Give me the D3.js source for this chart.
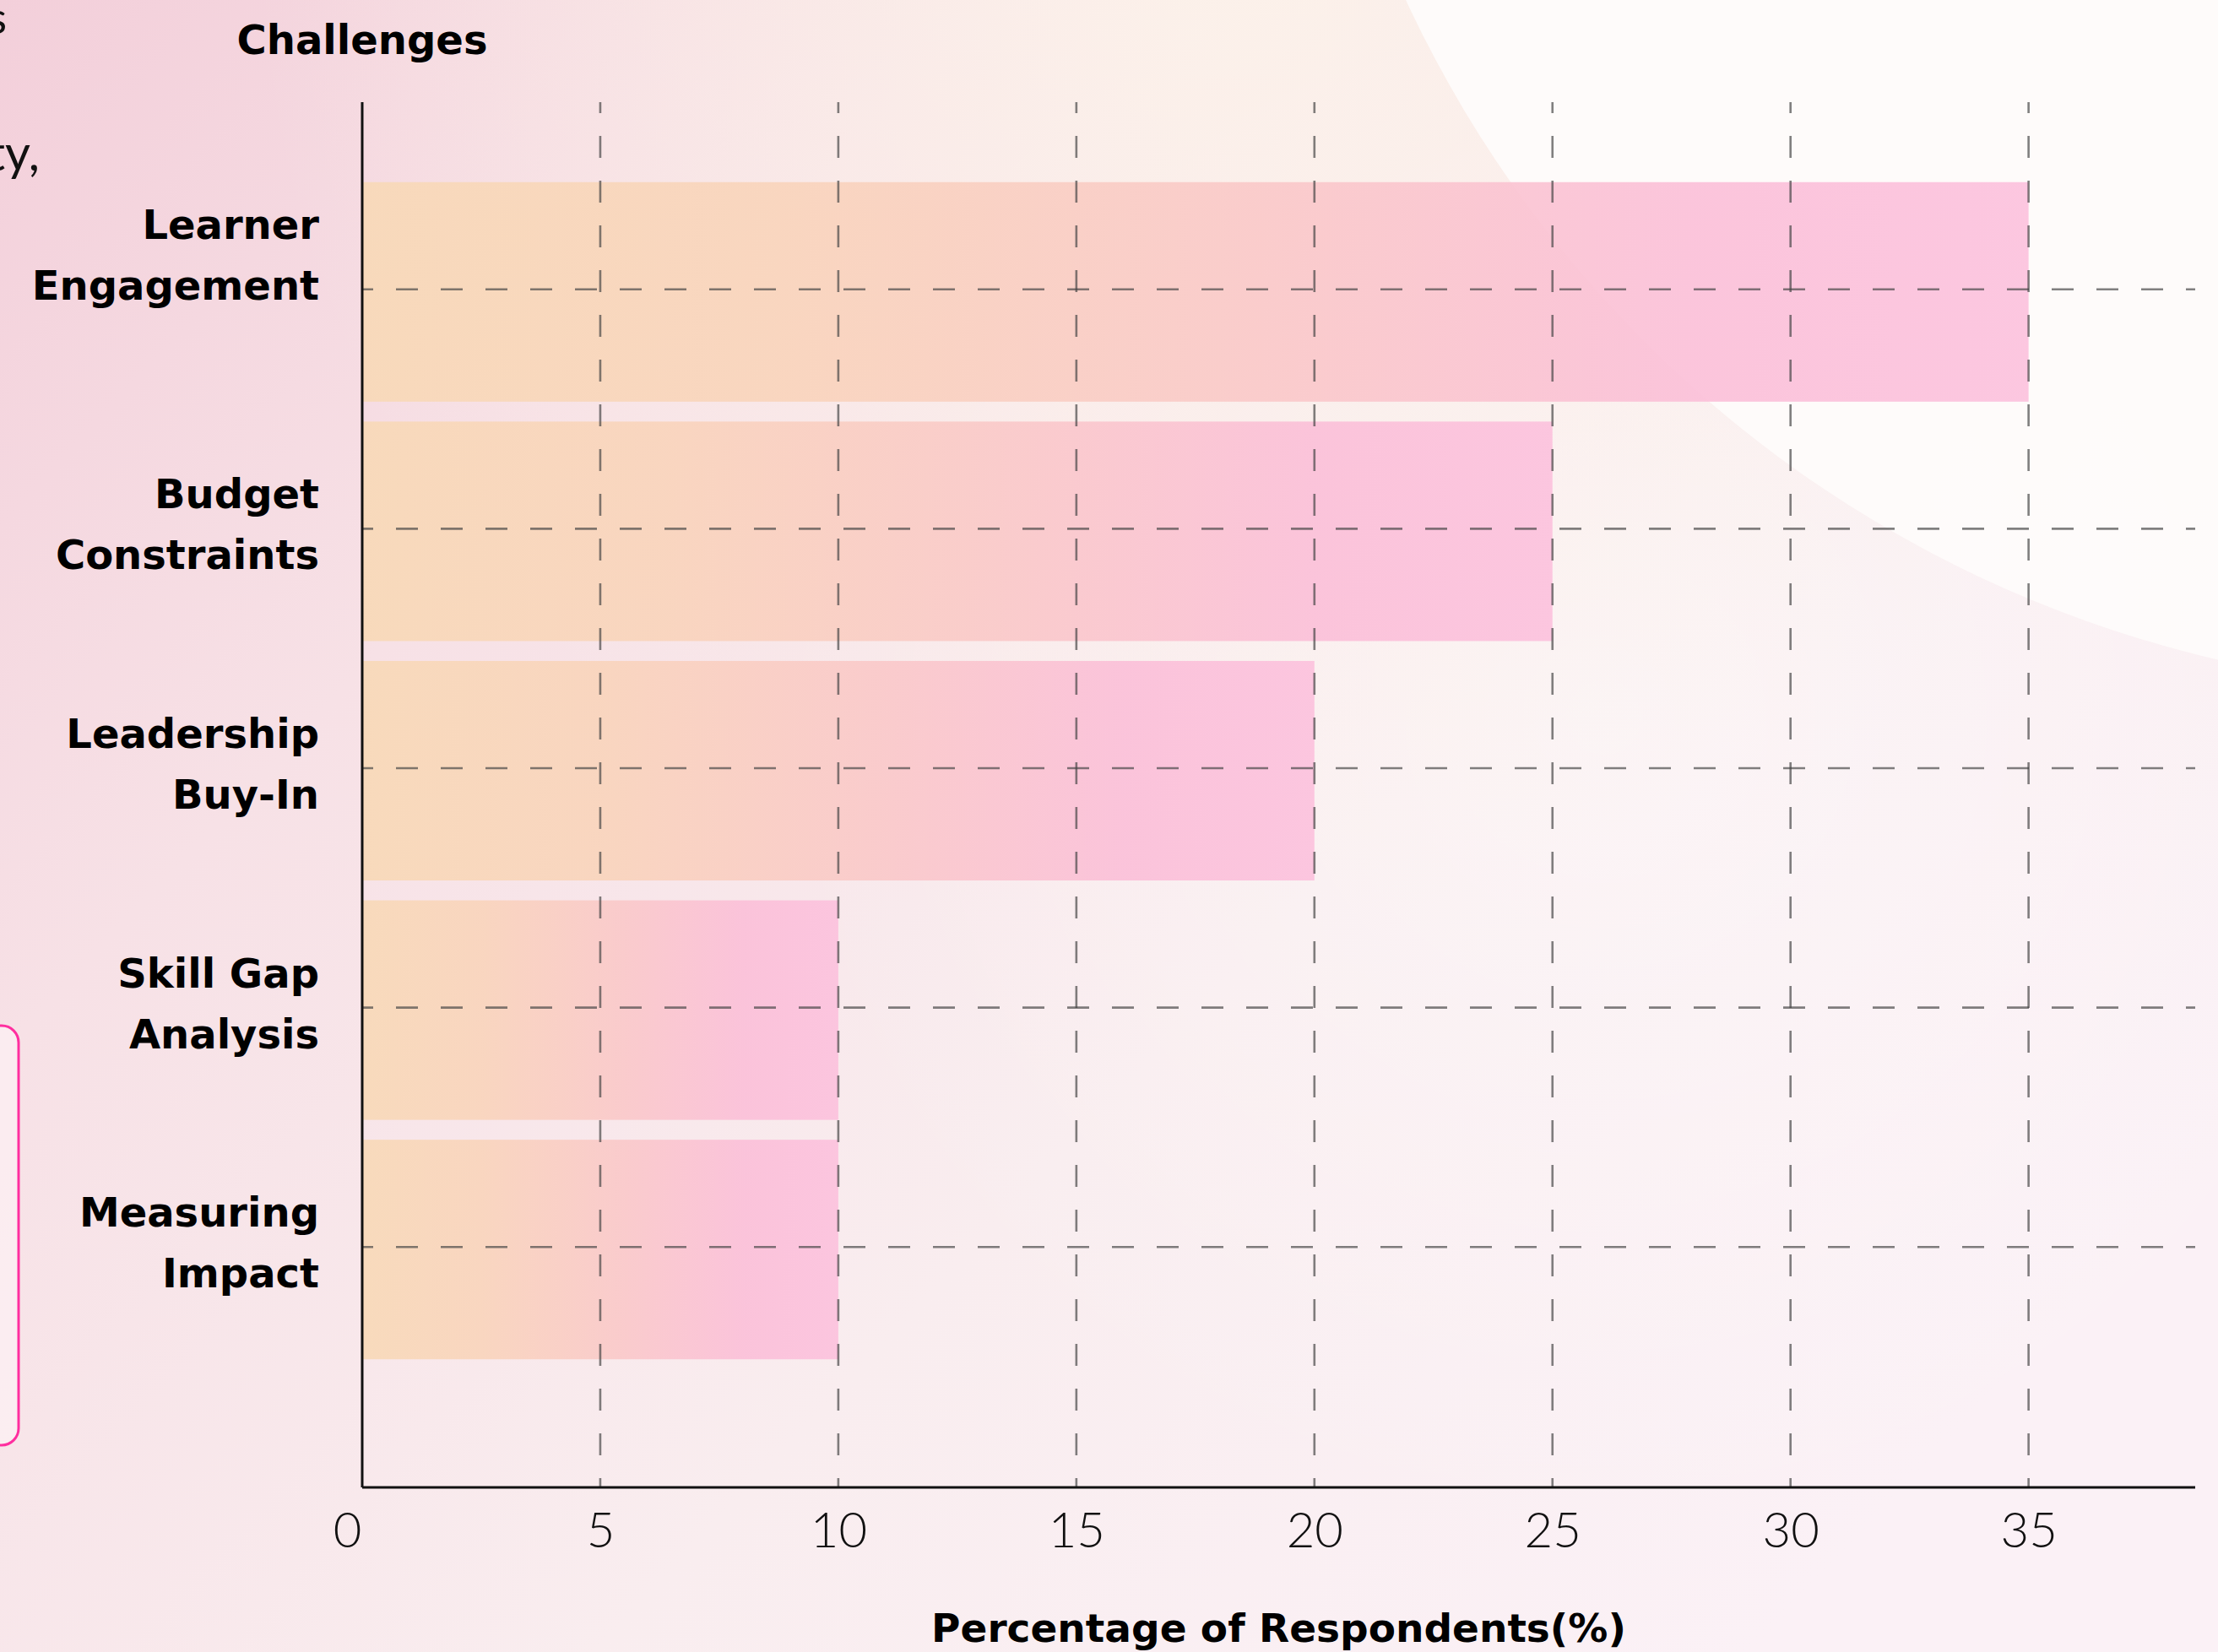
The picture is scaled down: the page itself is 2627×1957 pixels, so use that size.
<!DOCTYPE html>
<html>
<head>
<meta charset="utf-8">
<script src="https://cdn.jsdelivr.net/npm/d3@7"></script>
<style>
  html, body { margin: 0; padding: 0; overflow: hidden; background: #f8e6ea; }
  svg { display: block; }
</style>
</head>
<body>
<svg id="chart"></svg>
<script>
// ---- data ----
const categories = ["Learner Engagement", "Budget Constraints", "Leadership Buy-In", "Skill Gap Analysis", "Measuring Impact"];
const labelLines = [["Learner", "Engagement"], ["Budget", "Constraints"], ["Leadership", "Buy-In"], ["Skill Gap", "Analysis"], ["Measuring", "Impact"]];
const values = [35, 25, 20, 10, 10];
const xTicks = [0, 5, 10, 15, 20, 25, 30, 35];
const xTitle = "Percentage of Respondents(%)";
const yTitle = "Challenges";

// ---- layout ----
const W = 2627, H = 1957;
const plot = { left: 429, right: 2600, top: 121, bottom: 1762 };
const BOLD = "'DejaVu Sans', Lato, sans-serif";
const TICK = "Lato, 'Noto Sans', sans-serif";
const BODY = "Lato, 'Noto Sans', sans-serif";

const svg = d3.select("#chart").attr("width", W).attr("height", H);
const defs = svg.append("defs");

// page background: soft pink wash, lighter towards the right, peach glow near the top
const bg = defs.append("linearGradient").attr("id", "bgGrad")
  .attr("x1", "0").attr("y1", "0").attr("x2", "1").attr("y2", "0.7");
bg.append("stop").attr("offset", "0%").attr("stop-color", "#f3cfda");
bg.append("stop").attr("offset", "30%").attr("stop-color", "#f7e1e6");
bg.append("stop").attr("offset", "65%").attr("stop-color", "#f9edef");
bg.append("stop").attr("offset", "100%").attr("stop-color", "#fbf1f6");

const glow = defs.append("radialGradient").attr("id", "peachGlow")
  .attr("cx", 1450).attr("cy", -50).attr("r", 1150).attr("gradientUnits", "userSpaceOnUse");
glow.append("stop").attr("offset", "0%").attr("stop-color", "#fcf2ea").attr("stop-opacity", 0.95);
glow.append("stop").attr("offset", "100%").attr("stop-color", "#fcf2ea").attr("stop-opacity", 0);

const haze = defs.append("radialGradient").attr("id", "haze")
  .attr("cx", 1900).attr("cy", 850).attr("r", 1000).attr("gradientUnits", "userSpaceOnUse");
haze.append("stop").attr("offset", "0%").attr("stop-color", "#ffffff").attr("stop-opacity", 0.4);
haze.append("stop").attr("offset", "100%").attr("stop-color", "#ffffff").attr("stop-opacity", 0);

// bar fill: peach on the left blending into pink at the bar's end
const barGrad = defs.append("linearGradient").attr("id", "barGrad")
  .attr("x1", "0").attr("y1", "0").attr("x2", "1").attr("y2", "0");
barGrad.append("stop").attr("offset", "0%").attr("stop-color", "#f8d9b7");
barGrad.append("stop").attr("offset", "25%").attr("stop-color", "#f9d4bb");
barGrad.append("stop").attr("offset", "55%").attr("stop-color", "#fac8c9");
barGrad.append("stop").attr("offset", "80%").attr("stop-color", "#fbbfd8");
barGrad.append("stop").attr("offset", "100%").attr("stop-color", "#fcc1dd");

svg.append("rect").attr("width", W).attr("height", H).attr("fill", "url(#bgGrad)");
svg.append("rect").attr("width", W).attr("height", H).attr("fill", "url(#haze)");
svg.append("rect").attr("width", W).attr("height", H).attr("fill", "url(#peachGlow)");
// large pale disc in the upper right corner
svg.append("circle").attr("cx", 2946).attr("cy", -594).attr("r", 1412)
  .attr("fill", "#fefcfb").attr("opacity", 0.92);

// neighbouring page content cut off at the left edge
svg.append("text").attr("x", 8).attr("y", 40).attr("text-anchor", "end")
  .attr("font-family", BODY).attr("font-size", 52).attr("fill", "#111").text("s");
svg.append("text").attr("x", 47).attr("y", 202).attr("text-anchor", "end")
  .attr("font-family", BODY).attr("font-size", 58).attr("fill", "#111").text("ity,");
svg.append("rect").attr("x", -40).attr("y", 1215).attr("width", 62).attr("height", 497)
  .attr("rx", 20).attr("fill", "#fdf4f7").attr("fill-opacity", 0.6)
  .attr("stroke", "#ff2e9f").attr("stroke-width", 3);

// ---- scales ----
const x = d3.scaleLinear().domain([0, 38.5]).range([plot.left, plot.right]);
const y = d3.scaleBand().domain(categories).range([204, 1622])
  .paddingInner(0.083).paddingOuter(0.0415);

// ---- bars ----
svg.append("g").selectAll("rect")
  .data(categories)
  .join("rect")
  .attr("x", x(0))
  .attr("y", d => y(d))
  .attr("width", (d, i) => x(values[i]) - x(0))
  .attr("height", y.bandwidth())
  .attr("fill", "url(#barGrad)")
  .attr("fill-opacity", 0.9);

// ---- dashed grid (drawn over the bars) ----
const grid = svg.append("g")
  .attr("stroke", "#444").attr("stroke-opacity", 0.68)
  .attr("stroke-width", 2.6).attr("stroke-dasharray", "26,27").attr("stroke-dashoffset", 13);

grid.selectAll("line.v")
  .data(xTicks.filter(t => t > 0))
  .join("line").attr("class", "v")
  .attr("x1", d => x(d)).attr("x2", d => x(d))
  .attr("y1", plot.top).attr("y2", plot.bottom);

grid.selectAll("line.h")
  .data(categories)
  .join("line").attr("class", "h")
  .attr("x1", plot.left).attr("x2", plot.right)
  .attr("y1", d => y(d) + y.bandwidth() / 2 - 3)
  .attr("y2", d => y(d) + y.bandwidth() / 2 - 3);

// ---- x axis ----
const xAxis = svg.append("g")
  .attr("transform", `translate(0,${plot.bottom})`)
  .call(d3.axisBottom(x).tickValues(xTicks).tickSize(0).tickPadding(0).tickSizeOuter(0));
xAxis.select(".domain").remove();
xAxis.selectAll("text")
  .attr("font-family", TICK).attr("font-weight", 300).attr("font-size", 58)
  .attr("fill", "#111").attr("dy", null).attr("y", 71)
  .attr("dx", d => d === 0 ? -18 : 0);

// axis lines
svg.append("line").attr("x1", plot.left).attr("x2", plot.right)
  .attr("y1", plot.bottom).attr("y2", plot.bottom)
  .attr("stroke", "#111").attr("stroke-width", 3);
svg.append("line").attr("x1", plot.left).attr("x2", plot.left)
  .attr("y1", plot.top).attr("y2", plot.bottom)
  .attr("stroke", "#111").attr("stroke-width", 3);

// ---- category labels (two lines, right aligned) ----
const labels = svg.append("g")
  .attr("font-family", BOLD).attr("font-weight", 700).attr("font-size", 48)
  .attr("fill", "#000").attr("text-anchor", "end");
labels.selectAll("text")
  .data(categories)
  .join("text")
  .attr("x", 378)
  .attr("y", (d, i) => y(d) + y.bandwidth() / 2 - 27 - (i === 0 ? 36 : 0))
  .each(function (d, i) {
    const t = d3.select(this);
    labelLines[i].forEach((line, k) => {
      t.append("tspan").attr("x", 378).attr("dy", k === 0 ? 0 : 72).text(line);
    });
  });

// ---- titles ----
svg.append("text")
  .attr("x", (plot.left + plot.right) / 2).attr("y", 1945)
  .attr("text-anchor", "middle")
  .attr("font-family", BOLD).attr("font-weight", 700).attr("font-size", 47)
  .attr("fill", "#000").text(xTitle);

svg.append("text")
  .attr("x", plot.left).attr("y", 64)
  .attr("text-anchor", "middle")
  .attr("font-family", BOLD).attr("font-weight", 700).attr("font-size", 48)
  .attr("fill", "#000").text(yTitle);
</script>
</body>
</html>
